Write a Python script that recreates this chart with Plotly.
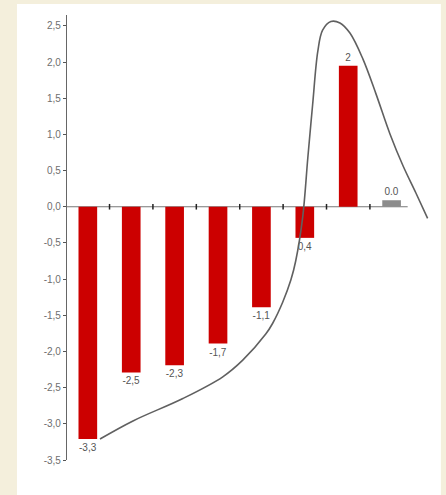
import plotly.graph_objects as go

# ---- data ----
categories = [0, 1, 2, 3, 4, 5, 6, 7]
bar_values = [-3.21, -2.29, -2.19, -1.89, -1.39, -0.43, 1.95, 0.09]
bar_labels = ["-3,3", "-2,5", "-2,3", "-1,7", "-1,1", "0,4", "2", "0.0"]
bar_colors = ["#cc0000"] * 7 + ["#8c8c8c"]

curve_x = [0.28, 1.04, 2.19, 3.11, 3.57, 4.10, 4.26, 4.49, 4.68, 4.79, 4.95,
           5.07, 5.18, 5.30, 5.41, 5.60, 5.81, 6.04, 6.34, 6.64, 6.96, 7.26,
           7.56, 7.83]
curve_y = [-3.21, -2.96, -2.65, -2.35, -2.12, -1.76, -1.61, -1.32, -1.01,
           -0.75, -0.15, 0.68, 1.41, 2.15, 2.44, 2.56, 2.54, 2.40, 2.04, 1.56,
           1.01, 0.57, 0.19, -0.16]

tick_vals = [2.5, 2.0, 1.5, 1.0, 0.5, 0.0, -0.5, -1.0, -1.5, -2.0, -2.5, -3.0, -3.5]
tick_text = ["2,5", "2,0", "1,5", "1,0", "0,5", "0,0", "-0,5", "-1,0", "-1,5",
             "-2,0", "-2,5", "-3,0", "-3,5"]

fig = go.Figure()

fig.add_trace(go.Bar(
    x=categories, y=bar_values, width=0.43,
    marker=dict(color=bar_colors, line=dict(width=0)),
    text=bar_labels, textposition="outside",
    textfont=dict(family="Liberation Sans, Arial", size=10, color="#555555"),
    cliponaxis=False, showlegend=False, hoverinfo="skip",
))

fig.add_trace(go.Scatter(
    x=curve_x, y=curve_y, mode="lines",
    line=dict(color="#606060", width=1.6, shape="spline", smoothing=1.0),
    showlegend=False, hoverinfo="skip", cliponaxis=False,
))

# small category separator ticks on the zero line
fig.add_trace(go.Scatter(
    x=[c + 0.5 for c in categories[:-1]], y=[0] * (len(categories) - 1),
    mode="markers",
    marker=dict(symbol="line-ns", size=4, line=dict(width=1.5, color="#222222")),
    showlegend=False, hoverinfo="skip",
))

fig.add_shape(type="line", xref="x", yref="y",
              x0=-0.48, x1=len(categories) - 0.63, y0=0, y1=0,
              line=dict(color="#777777", width=1.2), layer="below")

# white panel on beige page
fig.add_shape(type="rect", xref="paper", yref="paper",
              x0=-0.136, x1=1.016, y0=-0.1, y1=1.025,
              fillcolor="white", line=dict(width=0), layer="below")

fig.update_layout(
    width=446, height=495,
    margin=dict(l=67, r=11, t=15, b=35),
    paper_bgcolor="#f4efdc", plot_bgcolor="rgba(0,0,0,0)",
    bargap=0.5,
    xaxis=dict(range=[-0.48, 8.0], showgrid=False, zeroline=False,
               showticklabels=False, showline=False, ticks=""),
    yaxis=dict(range=[-3.5, 2.65], showgrid=False, zeroline=False,
               showline=True, linecolor="#666666", linewidth=1.2,
               tickvals=tick_vals, ticktext=tick_text,
               ticks="outside", ticklen=3, tickcolor="#555555",
               tickfont=dict(family="Liberation Sans, Arial", size=10, color="#6e6e6e")),
)

fig.write_html("out.html", config={"displayModeBar": False},
               post_script="document.body.style.margin='0';document.body.style.overflow='hidden';")
